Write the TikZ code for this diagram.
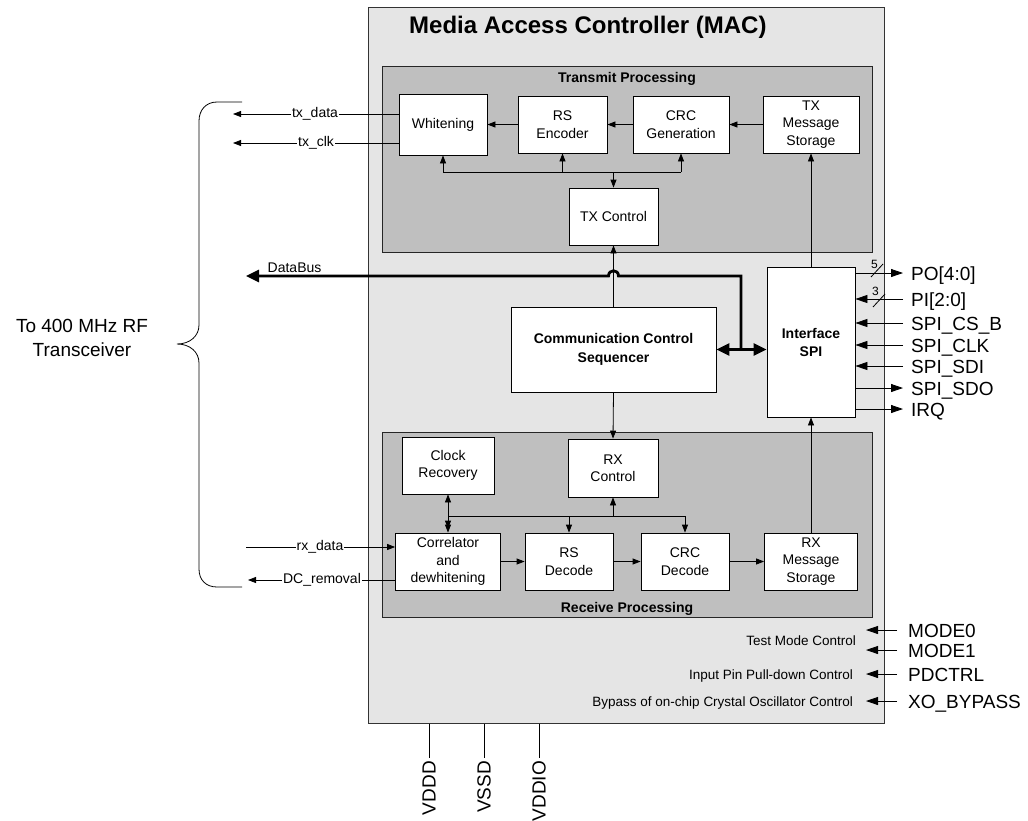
\documentclass[tikz,border=0pt]{standalone}
\usepackage{fontspec}
\setmainfont{Liberation Sans}
\usetikzlibrary{arrows.meta,calc}
\newcommand{\fsz}[2]{\fontsize{#1}{#2}\selectfont}
\begin{document}
\begin{tikzpicture}[x=1pt,y=-1pt,
  region/.style={draw=black!85, fill=black!25, line width=0.8pt, inner sep=0pt},
  blk/.style={draw=black, fill=white, align=center, font=\fsz{14}{17.5}, inner sep=0pt, line width=0.8pt},
  bblk/.style={blk, font=\bfseries\fsz{14}{19}},
  ln/.style={line width=0.8pt},
  arr/.style={ln, -{Triangle[length=8pt,width=6pt]}},
  darr/.style={ln, {Triangle[length=8pt,width=6pt]}-{Triangle[length=8pt,width=6pt]}},
  parr/.style={ln, -{Triangle[length=12pt,width=8pt]}},
  bus/.style={line width=2.8pt},
  bushead/.style={-{Triangle[length=13pt,width=12pt]}},
  lbl/.style={font=\fsz{14}{17}, inner sep=1pt},
  wlbl/.style={lbl, fill=white},
  pinlbl/.style={font=\fsz{19}{22}, inner sep=0pt, anchor=base west},
  ctl/.style={font=\fsz{13.5}{16}, inner sep=0pt, anchor=base east},
  pwr/.style={font=\fsz{19}{22}, inner sep=0pt, rotate=90, anchor=east},
]
\useasboundingbox (0,0) rectangle (1028,820);
\fill[white] (0,0) rectangle (1028,820);

% MAC outline
\node[draw=black!80, fill=black!10, line width=1pt, minimum width=516pt, minimum height=716pt, inner sep=0pt] (mac) at (626,365) {};
\node[font=\bfseries\fsz{24}{28}, anchor=base west, inner sep=0pt] (title) at (409,33) {Media Access Controller (MAC)};

% regions
\node[region, minimum width=490pt, minimum height=186pt] (txp) at (627,159) {};
\node[font=\bfseries\fsz{14}{17}, anchor=base, inner sep=0pt] (txpl) at (627,82.5) {Transmit Processing};
\node[region, minimum width=490pt, minimum height=185pt] (rxp) at (627,524.5) {};
\node[font=\bfseries\fsz{14}{17}, anchor=base, inner sep=0pt] (rxpl) at (627,612) {Receive Processing};

% transmit blocks
\node[blk, minimum width=88pt, minimum height=61pt] (wh) at (443,124.5) {Whitening};
\node[blk, minimum width=89pt, minimum height=57pt] (rse) at (562.5,124.5) {RS\\Encoder};
\node[blk, minimum width=96pt, minimum height=57pt] (crcg) at (681,124.5) {CRC\\Generation};
\node[blk, minimum width=96pt, minimum height=57pt] (txms) at (811,124.5) {TX\\Message\\Storage};
\node[blk, minimum width=89pt, minimum height=57pt] (txc) at (613.5,216.5) {TX Control};

% middle blocks
\node[bblk, minimum width=205pt, minimum height=85pt] (ccs) at (613.5,349.5) {Communication Control\\Sequencer};
\node[bblk, font=\bfseries\fsz{14}{18}, minimum width=88pt, minimum height=150pt] (spi) at (811,342) {Interface\\SPI};

% receive blocks
\node[blk, minimum width=92pt, minimum height=57pt] (clk) at (448,465.5) {Clock\\Recovery};
\node[blk, minimum width=90pt, minimum height=58pt] (rxc) at (613,468) {RX\\Control};
\node[blk, minimum width=105pt, minimum height=57pt] (cor) at (448,561.5) {Correlator\\and\\dewhitening};
\node[blk, minimum width=88pt, minimum height=57pt] (rsd) at (569,561.5) {RS\\Decode};
\node[blk, minimum width=88pt, minimum height=57pt] (crcd) at (685,561.5) {CRC\\Decode};
\node[blk, minimum width=93pt, minimum height=57pt] (rxms) at (811,561.5) {RX\\Message\\Storage};

% transmit chain
\draw[arr] (txms.west) -- (crcg.east);
\draw[arr] (crcg.west) -- (rse.east);
\draw[arr] (rse.west) -- (wh.east);
\coordinate (tb) at (614,172);
\draw[ln] (wh.south |- tb) -- (crcg.south |- tb);
\draw[arr] (wh.south |- tb) -- (wh.south);
\draw[arr] (rse.south |- tb) -- (rse.south);
\draw[arr] (crcg.south |- tb) -- (crcg.south);
\draw[arr] (txc.north |- tb) -- (txc.north);

% vertical links
\draw[arr] (ccs.north) -- (txc.south);
\draw[arr] (ccs.south) -- (rxc.north);
\draw[arr] (spi.north) -- (txms.south);
\draw[arr] (rxms.north) -- (spi.south);

% receive chain
\draw[arr] (cor.east) -- (rsd.west);
\draw[arr] (rsd.east) -- (crcd.west);
\draw[arr] (crcd.east) -- (rxms.west);
\coordinate (rb) at (613,516);
\draw[ln] (cor.north |- rb) -- (crcd.north |- rb);
\draw[arr] (rxc.south |- rb) -- (rxc.south);
\draw[arr] (rsd.north |- rb) -- (rsd.north);
\draw[arr] (crcd.north |- rb) -- (crcd.north);
\draw[arr] (cor.north |- rb) -- ([yshift=4pt]cor.north);
\draw[darr] (clk.south) -- (cor.north);

% data bus
\coordinate (dbx) at (741,276);
\coordinate (dbend) at (246,276);
\draw[bus, {Triangle[length=13pt,width=12pt]}-{Triangle[length=13pt,width=12pt]}] (ccs.east) -- (ccs.east -| spi.west);
\draw[bus, bushead] (ccs.east -| dbx) -- (dbx) -- ([xshift=5pt]txc.south |- dbx) .. controls +(0,-7) and +(0,-7) .. ([xshift=-5pt]txc.south |- dbx) -- (dbend);
\node[lbl, inner sep=0pt, anchor=base west] (dbl) at (267.5,272) {DataBus};

% RF side lines
\coordinate (txd) at (233,114);
\coordinate (txk) at (233,143);
\coordinate (rxd) at (246,547);
\coordinate (dcr) at (248,580);
\draw[arr] (wh.west |- txd) -- (txd);
\draw[arr] (wh.west |- txk) -- (txk);
\draw[arr] (rxd) -- (cor.west |- rxd);
\draw[arr] (cor.west |- dcr) -- (dcr);
\node[wlbl] (txdl) at (315,114) {tx\_data};
\node[wlbl] (txkl) at (316,143) {tx\_clk};
\node[wlbl] (rxdl) at (320,547) {rx\_data};
\node[wlbl] (dcrl) at (322,580) {DC\_removal};

% brace
\draw[ln] (242,102) -- (217,102) .. controls (206,102) and (199,110) .. (199,121)
  -- (199,325) .. controls (199,336) and (190,344) .. (177,344)
  .. controls (190,344) and (199,352) .. (199,363)
  -- (199,569) .. controls (199,580) and (206,587) .. (217,587) -- (242,587);
\node[font=\fsz{19}{24}, align=center, inner sep=0pt] (rf) at (82,338) {To 400 MHz RF\\Transceiver};

% SPI pins
\coordinate (po) at (903,273);
\coordinate (pi) at (903,299);
\coordinate (cs) at (903,323);
\coordinate (sck) at (903,345);
\coordinate (sdi) at (903,366);
\coordinate (sdo) at (903,388);
\coordinate (irq) at (903,409);
\draw[parr] (spi.east |- po) -- (po);
\draw[parr] (pi) -- (spi.east |- pi);
\draw[parr] (cs) -- (spi.east |- cs);
\draw[parr] (sck) -- (spi.east |- sck);
\draw[parr] (sdi) -- (spi.east |- sdi);
\draw[parr] (spi.east |- sdo) -- (sdo);
\draw[parr] (spi.east |- irq) -- (irq);
\draw[ln] ($(po)+(-32,4)$) -- ($(po)+(-20,-9)$);
\draw[ln] ($(pi)+(-30,8)$) -- ($(pi)+(-18,-5)$);
\node[font=\fsz{12}{14}, inner sep=0pt] (five) at (874.5,264) {5};
\node[font=\fsz{12}{14}, inner sep=0pt] (three) at (875.5,291) {3};
\node[pinlbl] at (911,280) {PO[4:0]};
\node[pinlbl] at (911,306) {PI[2:0]};
\node[pinlbl] at (911,330) {SPI\_CS\_B};
\node[pinlbl] at (911,352) {SPI\_CLK};
\node[pinlbl] at (911,373) {SPI\_SDI};
\node[pinlbl] at (911,395) {SPI\_SDO};
\node[pinlbl] at (911,416) {IRQ};

% control pins
\coordinate (m0) at (897,630);
\coordinate (m1) at (897,650);
\coordinate (pd) at (897,674);
\coordinate (xo) at (897,701);
\coordinate (m0t) at (866,630);
\coordinate (m1t) at (866,650);
\coordinate (pdt) at (866,674);
\coordinate (xot) at (866,701);
\draw[parr] (m0) -- (m0t);
\draw[parr] (m1) -- (m1t);
\draw[parr] (pd) -- (pdt);
\draw[parr] (xo) -- (xot);
\node[pinlbl] at (908,637) {MODE0};
\node[pinlbl] at (908,657) {MODE1};
\node[pinlbl] at (908,681) {PDCTRL};
\node[pinlbl] at (908,708) {XO\_BYPASS};
\node[ctl] at (856,645) {Test Mode Control};
\node[ctl] at (853,679) {Input Pin Pull-down Control};
\node[ctl] at (853,706) {Bypass of on-chip Crystal Oscillator Control};

% power pins
\coordinate (vddd) at (429,758);
\coordinate (vssd) at (484,758);
\coordinate (vddio) at (539,758);
\draw[ln] (mac.south -| vddd) -- (vddd);
\draw[ln] (mac.south -| vssd) -- (vssd);
\draw[ln] (mac.south -| vddio) -- (vddio);
\node[pwr] at ([yshift=-3pt]vddd) {VDDD};
\node[pwr] at ([yshift=-3pt]vssd) {VSSD};
\node[pwr] at ([yshift=-3pt]vddio) {VDDIO};
\end{tikzpicture}
\end{document}
